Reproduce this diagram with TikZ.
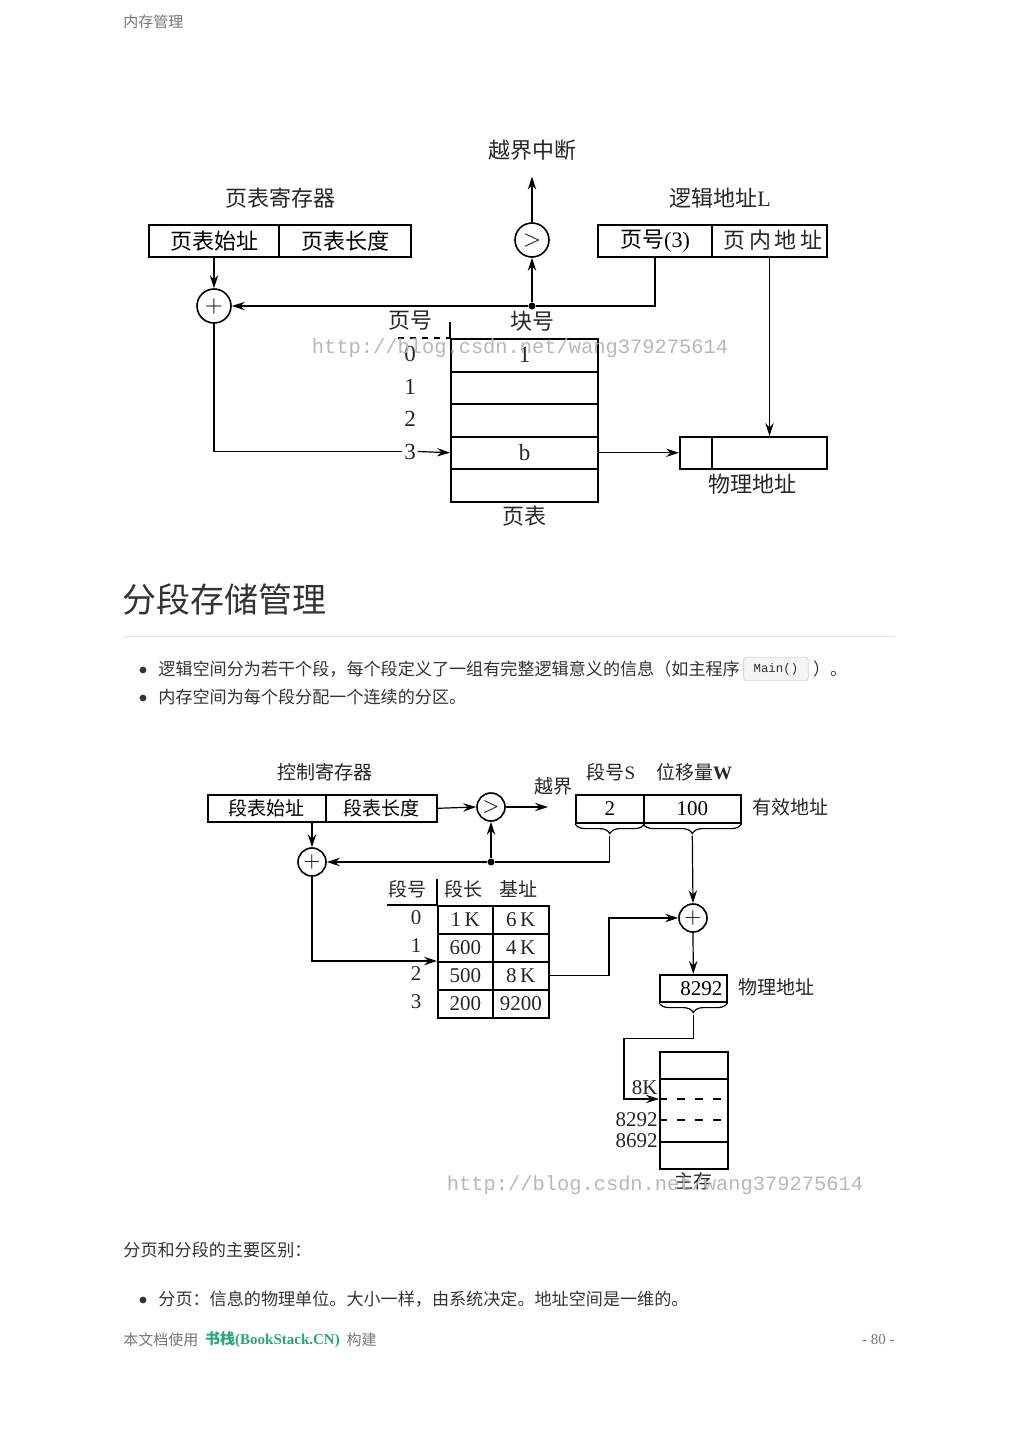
\documentclass[tikz,border=0pt]{standalone}
\usepackage{fontspec}
\setmainfont{Liberation Serif}
\newfontfamily\cjk{Noto Sans CJK SC}
\newfontfamily\wmfont{Liberation Mono}
\usetikzlibrary{positioning,calc,arrows.meta,decorations.pathreplacing}
\definecolor{bodytxt}{HTML}{333333}
\definecolor{softtxt}{HTML}{777777}
\definecolor{bsgreen}{HTML}{27A67A}
\tikzset{
  arr/.style={-{Stealth[length=6.5pt,width=4.2pt,inset=2.2pt]},line width=0.6pt},
  ln/.style={line width=0.6pt},
  cell/.style={draw,line width=1pt,inner sep=0pt,anchor=north west,font=\cjk\fontsize{11}{13}\selectfont},
  cellb/.style={cell,line width=0.8pt,font=\cjk\fontsize{9.5}{11}\selectfont},
  opnode/.style={circle,draw,line width=0.8pt,inner sep=0pt,minimum size=#1},
  dotnode/.style={circle,fill,inner sep=0pt,minimum size=3.5pt},
  lbl/.style={text=black!85,inner sep=1pt,font=\cjk\fontsize{11}{13}\selectfont},
  lblb/.style={lbl,font=\cjk\fontsize{9.5}{11}\selectfont},
  num/.style={text=black!85,inner sep=1pt,font=\fontsize{11.5}{13}\selectfont},
  numb/.style={num,font=\fontsize{10.5}{12}\selectfont},
  wm/.style={text=black!28,inner sep=0pt,font=\wmfont\fontsize{10.2}{12}\selectfont},
  pagetxt/.style={text=bodytxt,anchor=west,inner sep=0pt,font=\cjk\fontsize{8.55}{10}\selectfont},
}

\begin{document}
\begin{tikzpicture}[x=0.5pt,y=-0.5pt]
\useasboundingbox (0,0) rectangle (1019,1440);
\fill[white] (0,0) rectangle (1019,1440);

% running header
\node[pagetxt,text=softtxt,font=\cjk\fontsize{7.5}{9}\selectfont] (hdr) at (123,22) {内存管理};

%%%% paging: address translation
\node[lbl] (intr) at (532,150) {越界中断};
\node[lbl] (ptreg) at (280,198) {页表寄存器};
\node[lbl] (laddr) at (720,198) {逻辑地址\fontspec{Liberation Serif}L};
\node[cell,minimum width=65pt,minimum height=16pt] (ptbase) at (148,224) {页表始址};
\node[cell,minimum width=66pt,minimum height=16pt] (ptlen) at (278,224) {页表长度};
\node[cell,minimum width=57pt,minimum height=16pt] (pgno) at (597,224) {页号\fontspec{Liberation Serif}(3)};
\node[cell,minimum width=57.5pt,minimum height=16pt] (pgoff) at (711,224) {};
\node[lbl,anchor=west] (pgofft) at (721,240) {页\,内\,地\,址};
\node[opnode=17pt] (gt1) at (532,240) {\fontsize{13}{13}\selectfont$>$};
\node[opnode=17pt] (plus1) at (214,306) {\fontsize{13}{13}\selectfont$+$};
\node[dotnode] (j1) at (532,306) {};
\node[lbl] (pnhd) at (410,321) {页号};
\node[lbl] (bnhd) at (532,321) {块号};
\foreach \i in {0,...,4}{
  \node[cell,minimum width=73.5pt,minimum height=16.25pt] (pt\i) at (450,338+32.5*\i) {};
}
\foreach \i in {0,...,3}{
  \node[num] (pn\i) at (410,354+32.5*\i) {\i};
}
\node[num] at (pt0) {1};
\node[num] at (pt3) {b};
\draw[ln] (450,322) -- (pt0.north west);
\draw[ln,dashed] (398,338) -- (pt0.north west);
\node[lbl] (pttab) at (524,516) {页表};
\node[cell,minimum width=16pt,minimum height=16pt] (pa1) at (679,436) {};
\node[cell,minimum width=57.5pt,minimum height=16pt] (pa2) at (711,436) {};
\node[lbl] (paddr) at (752,484) {物理地址};

\draw[arr] (ptbase.south) -- (plus1.north);
\draw[arr] (j1) -- (gt1.south);
\draw[arr] (gt1.north) -- ($(intr.south)+(0,14)$);
\draw[arr] (pgno.south) |- (j1) -- (plus1.east);
\draw[ln] (plus1.south) |- (pn3.west);
\draw[arr] (pn3.east) -- (pt3.west);
\draw[arr] (pt3.east) -- (pt3.east -| pa1.west);
\draw[arr] (pgoff.south) -- (pa2.north);

\node[wm] (wm1) at (520,348) {http://blog.csdn.net/wang379275614};

%%%% section text
\node[anchor=west,inner sep=0pt,text=bodytxt,font=\cjk\fontsize{17}{20}\selectfont] (sec) at (122,600) {分段存储管理};
\draw[black!10,line width=0.5pt] (123,636) -- (895,636);
\fill[bodytxt] (143,670) circle[radius=1.7pt];
\node[pagetxt] (it1) at (158,669) {逻辑空间分为若干个段，每个段定义了一组有完整逻辑意义的信息（如主程序};
\node[right=1.5pt of it1,draw=black!15,fill=black!4,rounded corners=1.5pt,inner xsep=5pt,inner ysep=3pt,
      font=\wmfont\fontsize{6.2}{7}\selectfont,text=bodytxt] (code) {Main()};
\node[pagetxt,right=2pt of code] (it1b) {）。};
\fill[bodytxt] (143,698) circle[radius=1.7pt];
\node[pagetxt] (it2) at (158,697) {内存空间为每个段分配一个连续的分区。};

%%%% segmentation: address translation
\node[lblb] (creg) at (325,772) {控制寄存器};
\node[cellb,minimum width=59pt,minimum height=13.5pt] (sgbase) at (207,794) {段表始址};
\node[cellb,minimum width=55.5pt,minimum height=13.5pt] (sglen) at (325,794) {段表长度};
\node[opnode=14pt] (gt2) at (491,807) {\fontsize{11}{11}\selectfont$>$};
\coordinate (ovf) at (548,807);
\node[lblb] (ovft) at (553,786) {越界};
\node[lblb] (snhd) at (611,772) {段号\fontspec{Liberation Serif}S};
\node[lblb] (wnhd) at (694,772) {位移量\fontspec{Liberation Serif}\bfseries W};
\node[cellb,minimum width=34pt,minimum height=14pt,font=\fontsize{10.5}{12}\selectfont] (sgno) at (575,794) {2};
\node[cellb,minimum width=48.5pt,minimum height=14pt,font=\fontsize{10.5}{12}\selectfont] (sgoff) at (643,794) {100};
\node[lblb,anchor=west] (eaddr) at (750,807) {有效地址};
\draw[ln,decorate,decoration={brace,mirror,amplitude=5pt}] (sgno.south west) -- (sgno.south east);
\draw[ln,decorate,decoration={brace,mirror,amplitude=5pt}] (sgoff.south west) -- (sgoff.south east);
\coordinate (btip1) at ($(sgno.south)+(0,12)$);
\coordinate (btip2) at ($(sgoff.south)+(0,12)$);
\node[opnode=14pt] (plus2) at (312,862) {\fontsize{11}{11}\selectfont$+$};
\node[dotnode] (j2) at (491,862) {};

% segment table
\node[lblb] (sthd0) at (407,889) {段号};
\node[lblb] (sthd1) at (463,889) {段长};
\node[lblb] (sthd2) at (518,889) {基址};
\foreach \i/\sl/\sb in {0/1\,K/6\,K,1/600/4\,K,2/500/8\,K,3/200/9200}{
  \node[cellb,minimum width=27.5pt,minimum height=14pt] (sl\i) at (437,905+28*\i) {};
  \node[cellb,minimum width=28pt,minimum height=14pt] (sb\i) at (492,905+28*\i) {};
  \node[numb] at (sl\i) {\sl};
  \node[numb] at (sb\i) {\sb};
  \node[numb] (sn\i) at (416,918+28*\i) {\i};
}
\draw[ln] (387,905) -- (sl0.north west);
\draw[ln] (437,879) -- (sl0.north west);
\node[opnode=14pt] (plus3) at (693,918) {\fontsize{11}{11}\selectfont$+$};
\node[cellb,minimum width=33.5pt,minimum height=13.5pt,font=\fontsize{10.5}{12}\selectfont] (phy) at (659,974) {\hspace{8pt}8292};
\node[lblb,anchor=west] (phyt) at (736,987) {物理地址};
\draw[ln,decorate,decoration={brace,mirror,amplitude=5pt}] (phy.south west) -- (phy.south east);
\coordinate (btip3) at ($(phy.south)+(0,12)$);

% main memory
\node[cellb,minimum width=34pt,minimum height=13.5pt] (mem0) at (659,1051) {};
\node[cellb,minimum width=34pt,minimum height=31.5pt] (mem1) at (659,1078) {};
\node[cellb,minimum width=34pt,minimum height=13.5pt] (mem2) at (659,1141) {};
\node[numb,anchor=south east,inner sep=0.5pt] (m8k) at (659,1096) {8K};
\node[numb,anchor=east,inner sep=0.5pt] (m8292) at (659,1120) {8292};
\node[numb,anchor=east,inner sep=0.5pt] (m8692) at (659,1141) {8692};
\draw[ln,dash pattern=on 4pt off 5pt] (mem1.west |- 0,1099) -- (mem1.east |- 0,1099);
\draw[ln,dash pattern=on 4pt off 5pt] (m8292.east) -- (mem1.east |- m8292);
\node[lblb] (memt) at (693,1181) {主存};

\draw[arr] (sgbase.south -| plus2) -- (plus2.north);
\draw[arr] (sglen.east) -- (gt2.west);
\draw[arr] (gt2.east) -- (ovf);
\draw[arr] (btip1) |- (j2) -- (plus2.east);
\draw[arr] (j2) -- (gt2.south);
\draw[arr] (plus2.south) |- (sl2.north west);
\draw[arr] (sb2.east) -| (609,918) -- (plus3.west);
\draw[arr] (btip2) -- (plus3.north);
\draw[arr] (plus3.south) -- (phy.north);
\draw[arr] (btip3) -- ++(0,24) -| (624,1099) -- (mem1.west |- 0,1099);

\node[wm] (wm2) at (655,1185) {http://blog.csdn.net/wang379275614};

%%%% closing text
\node[pagetxt] (diff) at (123,1250) {分页和分段的主要区别：};
\fill[bodytxt] (143,1300) circle[radius=1.7pt];
\node[pagetxt] (it3) at (158,1299) {分页：信息的物理单位。大小一样，由系统决定。地址空间是一维的。};

% footer
\node[pagetxt,text=softtxt,font=\cjk\fontsize{7.5}{9}\selectfont] (ft1) at (123,1340) {本文档使用};
\node[pagetxt,right=3pt of ft1,text=bsgreen,font=\fontsize{7.5}{9}\selectfont\bfseries] (ft2) {{\cjk 书栈}(BookStack.CN)};
\node[pagetxt,right=3pt of ft2,text=softtxt,font=\cjk\fontsize{7.5}{9}\selectfont] (ft3) {构建};
\node[pagetxt,anchor=east,text=softtxt,font=\fontsize{7.5}{9}\selectfont] (pg) at (895,1340) {- 80 -};
\end{tikzpicture}
\end{document}
